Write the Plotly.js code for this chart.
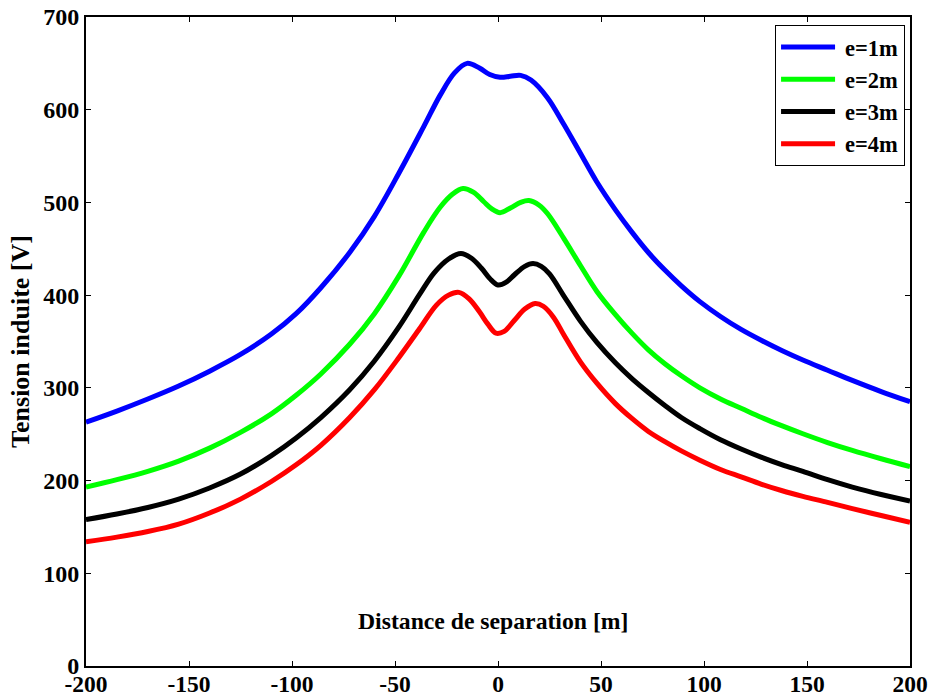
<!DOCTYPE html>
<html>
<head>
<meta charset="utf-8">
<script src="https://cdn.plot.ly/plotly-3.0.1.min.js"></script>
<style>html,body{margin:0;padding:0;background:#fff;}#chart{width:931px;height:696px;}</style>
</head>
<body>
<div id="chart"></div>
<script>
// Data
var seriesNames = ["e=1m", "e=2m", "e=3m", "e=4m"];

var x1 = [-200, -185, -170, -155, -140, -125, -110, -98, -86, -72, -60, -48, -36, -28, -21, -15, -9, -4, 1, 6, 11, 16, 24, 32, 40, 48, 57, 65, 73, 81, 89, 98, 108, 118, 128, 138, 148, 160, 172, 186, 200];
var y1 = [263, 275, 288, 302, 318, 336, 358, 380, 408, 446, 485, 532, 582, 616, 640, 650, 645, 638, 635, 636, 637, 632, 613, 584, 553, 522, 492, 468, 446, 427, 410, 393, 377, 363, 351, 340, 330, 319, 308, 296, 285];

var x2 = [-200, -185, -170, -155, -140, -125, -110, -98, -86, -72, -60, -48, -36, -28, -22, -17, -12, -7, -3, 1, 6, 11, 15, 20, 24, 32, 40, 48, 57, 65, 73, 81, 89, 98, 108, 118, 128, 138, 148, 160, 172, 186, 200];
var y2 = [193, 201, 210, 221, 235, 252, 272, 292, 315, 347, 380, 421, 468, 495, 509, 515, 511, 501, 493, 489, 494, 500, 502, 497, 488, 461, 432, 404, 379, 359, 341, 326, 313, 300, 288, 278, 268, 259, 250.5, 241, 232.5, 223.5, 215];

var x3 = [-200, -185, -170, -155, -140, -125, -110, -98, -86, -72, -60, -48, -38, -31, -24, -18, -13, -8, -4, 0, 4, 8, 13, 17, 21, 25, 32, 40, 48, 57, 65, 73, 81, 89, 98, 108, 118, 128, 138, 148, 160, 172, 186, 200];
var y3 = [158, 164, 171, 180, 192, 207, 227, 246, 268, 298, 329, 366, 401, 424, 439, 445, 440, 429, 418, 411, 414, 422, 431, 434, 431, 423, 399, 372, 349, 327, 310, 295, 281, 268, 256, 244, 234, 225, 217, 210, 201, 193, 185, 178];

var x4 = [-200, -185, -170, -155, -140, -125, -110, -98, -86, -72, -60, -48, -38, -30, -24, -19, -14, -9, -5, -1, 3, 8, 13, 18, 22, 27, 32, 40, 48, 57, 65, 73, 81, 89, 98, 108, 118, 128, 138, 148, 160, 172, 186, 200];
var y4 = [134, 139, 145, 153, 165, 180, 199, 217, 238, 268, 298, 333, 364, 389, 400, 403, 396, 382, 369, 359, 361, 373, 385, 391, 388, 376, 357, 328, 305, 283, 267, 253, 242, 232, 222, 212, 204, 196, 189, 183, 176.5, 169.8, 162.3, 155];

var xTickVals = [-200, -150, -100, -50, 0, 50, 100, 150, 200];
var xTickText = ["-200", "-150", "-100", "-50", "0", "50", "100", "150", "200"];
var yTickVals = [0, 100, 200, 300, 400, 500, 600, 700];

var colors = ["#0000ff", "#00ff00", "#000000", "#ff0000"];
var xs = [x1, x2, x3, x4];
var ys = [y1, y2, y3, y4];

var traces = xs.map(function (x, i) {
  return {
    x: x, y: ys[i], name: seriesNames[i], type: "scatter", mode: "lines",
    line: {color: colors[i], width: 5, shape: "spline", smoothing: 1}
  };
});

var fontFam = "Liberation Serif, Times New Roman, serif";

var layout = {
  width: 931, height: 696,
  margin: {l: 86, r: 21, t: 17, b: 30, pad: 0},
  paper_bgcolor: "#fff", plot_bgcolor: "#fff",
  font: {family: fontFam, color: "#000"},
  showlegend: true,
  legend: {
    x: 0.994, y: 0.988, xanchor: "right", yanchor: "top",
    bordercolor: "#000", borderwidth: 1, bgcolor: "#fff",
    font: {family: fontFam, size: 22.5, color: "#000", weight: "bold"},
    itemwidth: 59
  },
  xaxis: {
    range: [-200, 200], tickvals: xTickVals, ticktext: xTickText,
    ticks: "inside", ticklen: 5, tickwidth: 1, tickcolor: "#000",
    showline: true, linecolor: "#000", linewidth: 2, mirror: "ticks",
    showgrid: false, zeroline: false, ticklabelstandoff: -4,
    tickfont: {family: fontFam, size: 23.5, color: "#000", weight: "bold"}
  },
  yaxis: {
    range: [0, 700], tickvals: yTickVals,
    ticks: "inside", ticklen: 5, tickwidth: 1, tickcolor: "#000",
    showline: true, linecolor: "#000", linewidth: 2, mirror: "ticks",
    showgrid: false, zeroline: false,
    tickfont: {family: fontFam, size: 24, color: "#000", weight: "bold"},
    title: {text: "Tension induite [V]", standoff: 6,
            font: {family: fontFam, size: 26, color: "#000", weight: "bold"}}
  },
  annotations: [{
    text: "Distance de separation [m]", xref: "x", yref: "y", x: -2.5, y: 49,
    showarrow: false, xanchor: "center", yanchor: "middle",
    font: {family: fontFam, size: 23.7, color: "#000", weight: "bold"}
  }]
};

Plotly.newPlot("chart", traces, layout, {displayModeBar: false, staticPlot: true}).then(function (gd) {
  // lengthen legend line samples to match the reference
  var paths = gd.querySelectorAll(".legend .legendlines path");
  paths.forEach(function (p) { p.setAttribute("d", "M5,0h54"); });
});
</script>
</body>
</html>
